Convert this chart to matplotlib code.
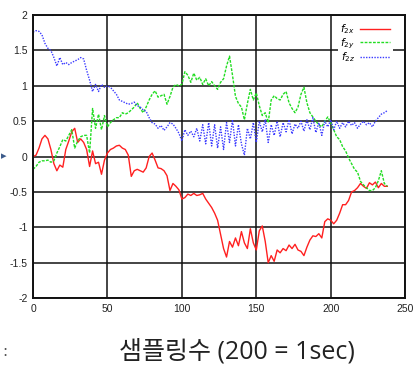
import numpy as np
import matplotlib.pyplot as plt

# sample index (every 2nd sample)
samples = np.arange(0, 240, 2)

f2x = [0.00, 0.02, 0.12, 0.25, 0.30, 0.25, 0.10, -0.10, -0.20, -0.12,
       -0.15, 0.10, 0.22, 0.35, 0.40, 0.20, 0.25, 0.20, 0.10, -0.14,
       0.08, -0.10, -0.08, -0.25, -0.05, 0.05, 0.10, 0.12, 0.15, 0.16,
       0.12, 0.10, 0.02, -0.28, -0.20, -0.18, -0.20, -0.22, -0.16, 0.00,
       0.05, -0.05, -0.16, -0.17, -0.20, -0.27, -0.48, -0.38, -0.42, -0.47,
       -0.60, -0.58, -0.53, -0.55, -0.52, -0.55, -0.54, -0.52, -0.60, -0.66,
       -0.72, -0.80, -0.90, -1.10, -1.30, -1.42, -1.20, -1.28, -1.15, -1.26,
       -1.06, -1.22, -1.30, -1.02, -1.22, -1.32, -1.05, -0.98, -1.20, -1.50,
       -1.40, -1.48, -1.32, -1.36, -1.30, -1.33, -1.25, -1.30, -1.24, -1.32,
       -1.34, -1.40, -1.28, -1.18, -1.12, -1.13, -1.09, -1.15, -0.92, -0.88,
       -0.90, -0.95, -0.90, -0.80, -0.68, -0.68, -0.62, -0.50, -0.48, -0.44,
       -0.38, -0.42, -0.45, -0.37, -0.40, -0.36, -0.44, -0.38, -0.42, -0.42]

f2y = [-0.18, -0.14, -0.08, -0.06, -0.06, -0.05, -0.08, -0.06, 0.05, 0.14,
       0.24, 0.22, 0.30, 0.38, 0.12, 0.22, 0.28, 0.30, 0.30, 0.05,
       0.68, 0.40, 0.60, 0.38, 0.58, 0.42, 0.48, 0.52, 0.55, 0.55,
       0.62, 0.60, 0.62, 0.66, 0.70, 0.76, 0.68, 0.62, 0.70, 0.80,
       0.88, 0.93, 0.84, 0.86, 0.88, 0.74, 0.85, 0.98, 1.02, 1.00,
       1.02, 1.20, 1.15, 1.05, 1.18, 1.08, 1.12, 1.02, 1.10, 1.00,
       1.06, 1.00, 0.95, 1.05, 1.10, 1.28, 1.42, 1.15, 0.85, 0.75,
       0.70, 0.52, 0.75, 0.95, 0.80, 0.90, 0.72, 0.58, 0.62, 0.48,
       0.80, 0.86, 0.82, 0.80, 0.88, 0.92, 0.76, 0.68, 0.62, 0.70,
       0.88, 0.98, 0.76, 0.62, 0.56, 0.50, 0.45, 0.42, 0.50, 0.56,
       0.48, 0.38, 0.28, 0.24, 0.14, 0.08, -0.02, -0.10, -0.18, -0.22,
       -0.35, -0.40, -0.44, -0.48, -0.48, -0.44, -0.34, -0.20, -0.38, -0.42]

f2z = [1.76, 1.78, 1.77, 1.72, 1.60, 1.53, 1.50, 1.40, 1.28, 1.40,
       1.30, 1.33, 1.30, 1.33, 1.35, 1.37, 1.40, 1.38, 1.22, 1.08,
       0.92, 1.02, 0.92, 1.02, 0.98, 1.00, 0.98, 0.93, 0.88, 0.80,
       0.78, 0.76, 0.74, 0.75, 0.77, 0.72, 0.70, 0.66, 0.64, 0.55,
       0.48, 0.46, 0.40, 0.44, 0.37, 0.42, 0.48, 0.46, 0.40, 0.33,
       0.22, 0.38, 0.30, 0.36, 0.28, 0.40, 0.22, 0.45, 0.18, 0.48,
       0.15, 0.45, 0.12, 0.42, 0.10, 0.48, 0.20, 0.52, 0.15, 0.45,
       0.18, 0.02, 0.40, 0.25, 0.48, 0.20, 0.50, 0.35, 0.52, 0.20,
       0.45, 0.30, 0.50, 0.28, 0.48, 0.35, 0.52, 0.32, 0.46, 0.40,
       0.50, 0.36, 0.52, 0.38, 0.55, 0.34, 0.48, 0.30, 0.50, 0.42,
       0.52, 0.38, 0.50, 0.40, 0.48, 0.42, 0.50, 0.44, 0.48, 0.40,
       0.46, 0.50, 0.45, 0.48, 0.42, 0.50, 0.55, 0.60, 0.62, 0.65]

xticks = [0, 50, 100, 150, 200, 250]
yticks = [-2, -1.5, -1, -0.5, 0, 0.5, 1, 1.5, 2]
ytick_labels = ['-2', '-1.5', '-1', '-0.5', '0', '0.5', '1', '1.5', '2']

fig = plt.figure(figsize=(4.13, 3.68), dpi=100)
ax = fig.add_axes([0.080, 0.190, 0.901, 0.769])

ax.plot(samples, f2x, color='#ff2020', lw=1.0, label='$f_{2x}$')
ax.plot(samples, f2y, color='#22dd22', lw=1.0, ls=(0, (2, 1)), label='$f_{2y}$')
ax.plot(samples, f2z, color='#3a3aff', lw=1.0, ls=(0, (1, 1)), label='$f_{2z}$')

ax.set_xlim(0, 250)
ax.set_ylim(-2, 2)
ax.set_xticks(xticks)
ax.set_yticks(yticks)
ax.set_yticklabels(ytick_labels)
ax.grid(True, color='#111111', lw=1.1)
ax.set_axisbelow(True)
for s in ax.spines.values():
    s.set_linewidth(1.4)
    s.set_color('#111111')
ax.tick_params(length=0, pad=4, labelsize=7.5, labelcolor='#222222')
for lab in ax.get_xticklabels() + ax.get_yticklabels():
    lab.set_family('Liberation Sans')

leg = ax.legend(loc='upper right', frameon=True, markerfirst=False,
                handlelength=2.9, labelspacing=0.0, borderpad=0.2,
                handletextpad=0.5, fontsize=7.5, fancybox=False,
                bbox_to_anchor=(0.98, 1.0))
leg.get_frame().set_edgecolor('none')
leg.get_frame().set_alpha(1.0)

fig.text(0.574, 0.043, '샘플링수 (200 = 1sec)', ha='center', va='center',
         fontsize=18, family=['Open Sans', 'Noto Sans CJK KR'], color='#222222')
fig.text(0.012, 0.045, ':', ha='center', va='center', fontsize=11, color='#555555')
fig.text(0.008, 0.577, '▸', ha='center', va='center', fontsize=8, color='#3b5a8a')

fig.savefig('out.png', dpi=100)
